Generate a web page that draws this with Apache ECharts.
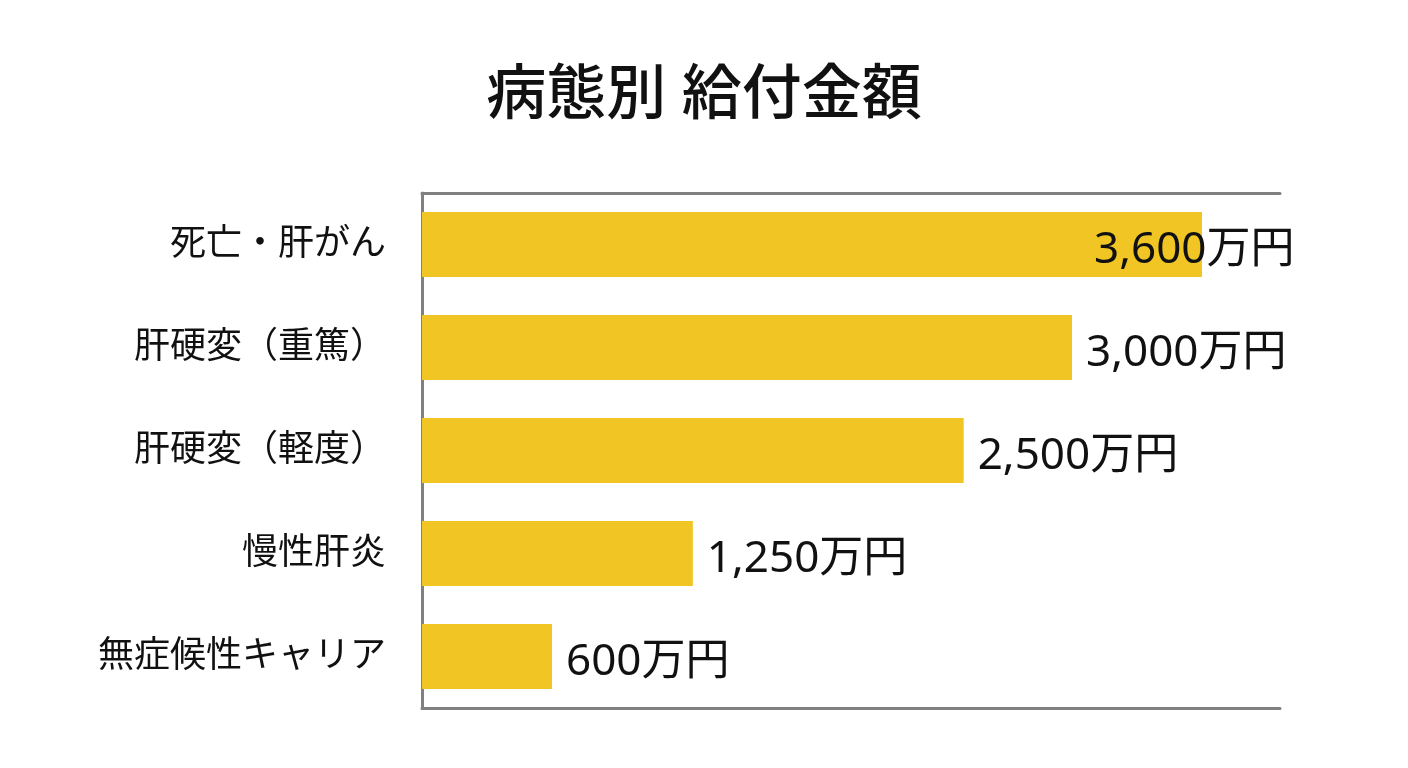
<!DOCTYPE html>
<html><head><meta charset="utf-8">
<script src="https://cdn.jsdelivr.net/npm/echarts@6/dist/echarts.min.js"></script>
<style>html,body{margin:0;background:#fff}#c{width:1408px;height:768px}</style>
</head><body><div id="c"></div>
<script>
const categories = ['死亡・肝がん','肝硬変（重篤）','肝硬変（軽度）','慢性肝炎','無症候性キャリア'];
const values = [3600, 3000, 2500, 1250, 600];
const valueLabels = ['3,600万円','3,000万円','2,500万円','1,250万円','600万円'];
const chart = echarts.init(document.getElementById('c'));
const font = '"Noto Sans", "Noto Sans CJK JP", sans-serif';
const axLine = {show:true, lineStyle:{color:'#808080', width:3}};
chart.setOption({
  title:{text:'病態別 給付金額', left:'center', top:62,
    textStyle:{fontFamily:font, fontSize:60, fontWeight:'500', color:'#111'}},
  grid:{left:422, right:128, top:193, bottom:60},
  xAxis:[
    {type:'value', min:0, max:3960, position:'bottom', axisLine:axLine, axisTick:{show:false}, axisLabel:{show:false}, splitLine:{show:false}},
    {type:'value', min:0, max:3960, position:'top', axisLine:axLine, axisTick:{show:false}, axisLabel:{show:false}, splitLine:{show:false}}
  ],
  yAxis:{type:'category', inverse:true, data:categories, axisLine:axLine, axisTick:{show:false},
    axisLabel:{fontFamily:font, fontSize:36, color:'#111', margin:36}},
  series:[{type:'bar', xAxisIndex:0, barWidth:65,
    data: values.map((v,i)=>({value:v, label:{offset:[i===0?-122:0,6]}})),
    itemStyle:{color:'#F0C524'},
    label:{show:true, position:'right', distance:14, fontFamily:font, fontSize:44, color:'#111',
      formatter:p=>valueLabels[p.dataIndex]}
  }]
});
</script></body></html>
